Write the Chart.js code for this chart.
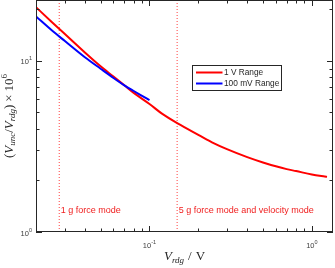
<!DOCTYPE html>
<html>
<head>
<meta charset="utf-8">
<script src="https://cdn.jsdelivr.net/npm/chart.js@4.4.1/dist/chart.umd.min.js"></script>
<style>
  html, body { margin: 0; padding: 0; background: #fff; }
</style>
</head>
<body>
<canvas id="chart" width="335" height="268"></canvas>
<script>
// --- Data ---
const seriesNames = ['1 V Range', '100 mV Range'];

const redX = [0.02, 0.025, 0.03, 0.04, 0.05, 0.06, 0.07, 0.08, 0.1, 0.12, 0.15, 0.2, 0.25, 0.3, 0.4, 0.5, 0.6, 0.7, 0.8, 1.0, 1.2, 1.24];
const redY = [20.6, 16.9, 14.4, 11.2, 9.3, 8.1, 7.2, 6.5, 5.6, 4.9, 4.3, 3.7, 3.3, 3.05, 2.74, 2.55, 2.42, 2.33, 2.27, 2.17, 2.11, 2.10];

const blueX = [0.02, 0.025, 0.03, 0.04, 0.05, 0.06, 0.07, 0.08, 0.09, 0.1];
const blueY = [18.2, 15.1, 13.1, 10.5, 9.0, 7.95, 7.2, 6.67, 6.25, 5.9];

const modeLines = [0.0278, 0.148];
const modeLabels = ['1 g force mode', '5 g force mode and velocity mode'];

const xRange = [0.02, 1.35];
const yRange = [1, 22.7];

const xMajor = [0.1, 1];
const xMajorExp = ['-1', '0'];
const xMinor = [0.02, 0.03, 0.04, 0.05, 0.06, 0.07, 0.08, 0.09, 0.2, 0.3, 0.4, 0.5, 0.6, 0.7, 0.8, 0.9];
const yMajor = [1, 10];
const yMajorExp = ['0', '1'];
const yMinor = [2, 3, 4, 5, 6, 7, 8, 9, 20];

const axisColor = '#262626';
const serif = '"Liberation Serif", "DejaVu Serif", serif';
const sans = '"Liberation Sans", Arial, sans-serif';

// --- Rich text helpers (sub/superscripts) ---
function richWidth(ctx, segs) {
    let w = 0;
    segs.forEach(s => { ctx.font = s.f; w += ctx.measureText(s.t).width + (s.gap || 0); });
    return w;
}

function drawRich(ctx, segs, x, y) {
    segs.forEach(s => {
        ctx.font = s.f;
        ctx.fillText(s.t, x, y + (s.dy || 0));
        x += ctx.measureText(s.t).width + (s.gap || 0);
    });
}

function powSegs(exp) {
    return [
        { t: '10', f: '7.5px ' + sans },
        { t: exp, f: '5.5px ' + sans, dy: -4 }
    ];
}

// --- Axes, ticks, legend, labels drawn in MATLAB style ---
const matlabAxes = {
    id: 'matlabAxes',
    afterDatasetsDraw(chart) {
        const { ctx, chartArea: a, scales: { x, y } } = chart;
        ctx.save();
        ctx.strokeStyle = axisColor;
        ctx.lineWidth = 1;

        // box
        ctx.strokeRect(a.left + 0.5, a.top + 0.5, a.right - a.left - 1, a.bottom - a.top - 1);

        // ticks (inward, mirrored)
        ctx.beginPath();
        const xt = (v, len) => {
            const px = Math.round(x.getPixelForValue(v)) + 0.5;
            ctx.moveTo(px, a.bottom); ctx.lineTo(px, a.bottom - len);
            ctx.moveTo(px, a.top); ctx.lineTo(px, a.top + len);
        };
        const yt = (v, len) => {
            const py = Math.round(y.getPixelForValue(v)) + 0.5;
            ctx.moveTo(a.left, py); ctx.lineTo(a.left + len, py);
            ctx.moveTo(a.right, py); ctx.lineTo(a.right - len, py);
        };
        xMinor.forEach(v => xt(v, 3.5));
        xMajor.forEach(v => xt(v, 6));
        yMinor.forEach(v => yt(v, 3.5));
        yMajor.forEach(v => yt(v, 6));
        ctx.stroke();

        // tick labels
        ctx.fillStyle = '#404040';
        ctx.textBaseline = 'alphabetic';
        xMajor.forEach((v, i) => {
            const segs = powSegs(xMajorExp[i]);
            const w = richWidth(ctx, segs);
            drawRich(ctx, segs, x.getPixelForValue(v) - w / 2, a.bottom + 16);
        });
        yMajor.forEach((v, i) => {
            const segs = powSegs(yMajorExp[i]);
            const w = richWidth(ctx, segs);
            drawRich(ctx, segs, a.left - 4 - w, y.getPixelForValue(v) + 3.5);
        });

        // mode annotations
        ctx.fillStyle = '#f02020';
        ctx.font = '9px ' + sans;
        ctx.textBaseline = 'middle';
        modeLines.forEach((v, i) => {
            ctx.fillText(modeLabels[i], x.getPixelForValue(v) + 1.5, 211);
        });

        // legend
        const lx = 192.5, ly = 65.5, lw = 89, lh = 25;
        ctx.fillStyle = '#fff';
        ctx.fillRect(lx, ly, lw, lh);
        ctx.strokeStyle = axisColor;
        ctx.strokeRect(lx, ly, lw, lh);
        const legColors = ['#ff0000', '#0000ff'];
        const legRows = [72.5, 83.5];
        ctx.font = '8.3px ' + sans;
        ctx.textBaseline = 'middle';
        seriesNames.forEach((name, i) => {
            ctx.strokeStyle = legColors[i];
            ctx.lineWidth = 2;
            ctx.beginPath();
            ctx.moveTo(196, legRows[i]); ctx.lineTo(222.5, legRows[i]);
            ctx.stroke();
            ctx.fillStyle = axisColor;
            ctx.fillText(name, 224, legRows[i] + 0.5);
        });

        // axis titles
        ctx.fillStyle = axisColor;
        ctx.textBaseline = 'alphabetic';
        const big = '13px ' + serif, bigI = 'italic 13px ' + serif, small = 'italic 9px ' + serif;
        const xl = [
            { t: 'V', f: bigI },
            { t: 'rdg', f: small, dy: 2.5, gap: 4 },
            { t: '/', f: big, gap: 4 },
            { t: 'V', f: big }
        ];
        const xw = richWidth(ctx, xl);
        drawRich(ctx, xl, (a.left + a.right) / 2 - xw / 2 + 0, 260);

        const yl = [
            { t: '(', f: big },
            { t: 'V', f: bigI },
            { t: 'unc', f: small, dy: 2.5 },
            { t: '/', f: big },
            { t: 'V', f: bigI },
            { t: 'rdg', f: small, dy: 2.5 },
            { t: ')', f: big, gap: 3 },
            { t: '×', f: big, gap: 3 },
            { t: '10', f: big },
            { t: '6', f: '9px ' + serif, dy: -5.5 }
        ];
        const yw = richWidth(ctx, yl);
        ctx.translate(12.5, (a.top + a.bottom) / 2);
        ctx.rotate(-Math.PI / 2);
        drawRich(ctx, yl, -yw / 2, 0);

        ctx.restore();
    }
};

const pts = (xs, ys) => xs.map((v, i) => ({ x: v, y: ys[i] }));

new Chart(document.getElementById('chart').getContext('2d'), {
    type: 'line',
    data: {
        datasets: [
            {
                label: seriesNames[0],
                data: pts(redX, redY),
                borderColor: '#ff0000',
                borderWidth: 2,
                pointRadius: 0,
                cubicInterpolationMode: 'monotone',
                order: 2
            },
            {
                label: seriesNames[1],
                data: pts(blueX, blueY),
                borderColor: '#0000ff',
                borderWidth: 2,
                pointRadius: 0,
                cubicInterpolationMode: 'monotone',
                order: 1
            },
            ...modeLines.map(v => ({
                label: 'mode',
                data: [{ x: v, y: yRange[0] }, { x: v, y: yRange[1] }],
                borderColor: '#ff4040',
                borderWidth: 1,
                borderDash: [1, 2],
                pointRadius: 0,
                order: 3
            }))
        ]
    },
    options: {
        responsive: false,
        devicePixelRatio: 1,
        animation: false,
        layout: { padding: { left: 36, right: 2, top: 0, bottom: 36 } },
        scales: {
            x: { type: 'logarithmic', min: xRange[0], max: xRange[1], display: false },
            y: { type: 'logarithmic', min: yRange[0], max: yRange[1], display: false }
        },
        plugins: {
            legend: { display: false },
            tooltip: { enabled: false }
        }
    },
    plugins: [matlabAxes]
});
</script>
</body>
</html>
